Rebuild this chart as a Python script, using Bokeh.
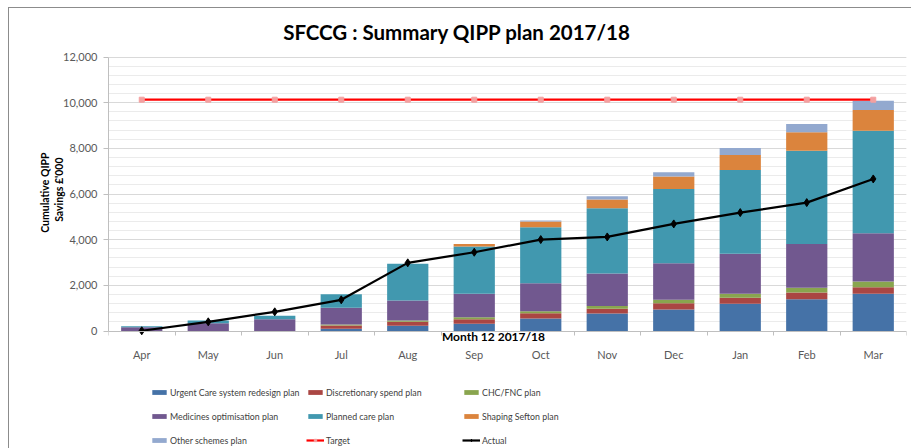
from bokeh.plotting import figure
from bokeh.layouts import column
from bokeh.models import (ColumnDataSource, Legend, LegendItem, FixedTicker, Label, Title,
                          SingleIntervalTicker, Range1d, NumeralTickFormatter)
from bokeh.embed import file_html
from bokeh.resources import INLINE

months = ["Apr", "May", "Jun", "Jul", "Aug", "Sep", "Oct", "Nov", "Dec", "Jan", "Feb", "Mar"]
urgent = [0, 0, 0, 96, 227, 315, 547, 766, 941, 1190, 1390, 1627]
discretionary = [0, 0, 0, 145, 175, 201, 232, 204, 277, 263, 294, 291]
chc_fnc = [0, 0, 0, 43, 58, 88, 88, 130, 147, 175, 205, 248]
medicines = [166, 341, 516, 731, 875, 1024, 1225, 1416, 1603, 1750, 1926, 2114]
planned = [44, 119, 149, 596, 1605, 2070, 2451, 2859, 3254, 3676, 4084, 4495]
shaping = [0, 0, 0, 0, 0, 117, 249, 380, 539, 657, 802, 905]
other = [0, 0, 0, 0, 0, 0, 44, 145, 189, 306, 366, 408]
target = [10130] * 12
actual = [10, 402, 840, 1365, 2985, 3450, 4004, 4120, 4690, 5186, 5623, 6660]
y_ticks_max = 12000

series_keys = ["urgent", "disc", "chc", "med", "planned", "shaping", "other"]
series_labels = ["Urgent Care system redesign plan", "Discretionary spend plan", "CHC/FNC plan",
                 "Medicines optimisation plan", "Planned care plan", "Shaping Sefton plan",
                 "Other schemes plan"]
series_colors = ["#4572A7", "#AA4643", "#89A54E", "#71588F", "#4198AF", "#DB843D", "#93A9CF"]

TARGET_COLOR = "#FF0000"
TARGET_MARK = "#F4A0A0"
ACTUAL_COLOR = "#000000"
FONT = "Lato"

# layout geometry (pixels inside the figure canvas)
W, H = 902, 440
AXIS_TOP_PX, AXIS_ZERO_PX = 48.5, 322.5
px_per_unit = (AXIS_ZERO_PX - AXIS_TOP_PX) / y_ticks_max
y_end = y_ticks_max + AXIS_TOP_PX / px_per_unit
y_start = -(H - AXIS_ZERO_PX) / px_per_unit

x = list(range(len(months)))
src = ColumnDataSource(dict(x=x, urgent=urgent, disc=discretionary, chc=chc_fnc, med=medicines,
                            planned=planned, shaping=shaping, other=other,
                            target=target, actual=actual))

p = figure(width=W, height=H, x_range=Range1d(-0.5, 11.5), y_range=Range1d(y_start, y_end),
           output_backend="svg", toolbar_location=None,
           min_border_left=99, min_border_right=5, min_border_top=0, min_border_bottom=0,
           background_fill_color="white", border_fill_color="white", outline_line_color=None)

bars = p.vbar_stack(series_keys, x="x", width=0.62, color=series_colors, source=src,
                    line_color=None)
t_line = p.line("x", "target", source=src, line_color=TARGET_COLOR, line_width=2.2)
t_pts = p.scatter("x", "target", source=src, marker="square", size=5, fill_color=TARGET_MARK,
                  line_color=TARGET_MARK)
a_line = p.line("x", "actual", source=src, line_color=ACTUAL_COLOR, line_width=2.2)
a_pts = p.scatter("x", "actual", source=src, marker="diamond", size=8, fill_color=ACTUAL_COLOR,
                  line_color=ACTUAL_COLOR)

# axes
p.xaxis.fixed_location = 0
p.xaxis.ticker = FixedTicker(ticks=x, minor_ticks=[i - 0.5 for i in range(len(months) + 1)])
p.xaxis.major_label_overrides = {i: m for i, m in enumerate(months)}
p.xaxis.major_tick_line_color = None
p.xaxis.minor_tick_out = 4
p.xaxis.minor_tick_in = 0
p.xaxis.minor_tick_line_color = "#bfbfbf"
p.xaxis.axis_line_color = "#bfbfbf"
p.xaxis.major_label_standoff = 11
p.xgrid.grid_line_color = None

p.yaxis.bounds = (0, y_ticks_max)
p.yaxis.ticker = SingleIntervalTicker(interval=2000, num_minor_ticks=5)
p.yaxis.formatter = NumeralTickFormatter(format="0,0")
p.yaxis.minor_tick_line_color = None
p.yaxis.major_tick_out = 5
p.yaxis.major_tick_in = 0
p.yaxis.major_tick_line_color = "#bfbfbf"
p.yaxis.axis_line_color = "#bfbfbf"
p.yaxis.major_label_standoff = 6
p.ygrid.bounds = (0, y_ticks_max)
p.ygrid.grid_line_color = "#d9d9d9"
p.ygrid.minor_grid_line_color = "#ebebeb"

for ax in (p.xaxis, p.yaxis):
    ax.major_label_text_font = FONT
    ax.major_label_text_font_size = "11px"
    ax.major_label_text_color = "#595959"

# y-axis title: two rotated lines in the left panel
for txt, off, so in (("Savings £'000", 149, -8), ("Cumulative QIPP", 144, 8)):
    p.add_layout(Title(text=txt, align="right", offset=off, standoff=so,
                       text_font=FONT, text_font_style="bold", text_font_size="10.5px",
                       text_color="#000000"), "left")

# texts (screen units, measured from the frame's lower-left corner)
p.add_layout(Label(x=348.5, y=H - 23, x_units="screen", y_units="screen",
                   text="SFCCG : Summary QIPP plan 2017/18", text_align="center",
                   text_baseline="middle", text_font=FONT, text_font_style="bold",
                   text_font_size="20.5px", text_color="#000000"))
p.add_layout(Label(x=385, y=H - 328, x_units="screen", y_units="screen",
                   text="Month 12 2017/18", text_align="center", text_baseline="middle",
                   text_font=FONT, text_font_style="bold", text_font_size="12px",
                   text_color="#000000"))

# legend: three columns of three rows
cols = [
    [(series_labels[0], [bars[0]]), (series_labels[3], [bars[3]]), (series_labels[6], [bars[6]])],
    [(series_labels[1], [bars[1]]), (series_labels[4], [bars[4]]), ("Target", [t_line, t_pts])],
    [(series_labels[2], [bars[2]]), (series_labels[5], [bars[5]]), ("Actual", [a_line, a_pts])],
]
col_x = [42, 198, 354]
for cx, col_items in zip(col_x, cols):
    lg = Legend(items=[LegendItem(label=l, renderers=r) for l, r in col_items],
                location=(cx, 1.5), orientation="vertical",
                padding=0, margin=0, spacing=11, label_height=13, glyph_height=6,
                glyph_width=18, label_standoff=2, border_line_color=None,
                background_fill_alpha=0, label_text_font=FONT,
                label_text_font_size="8.8px", label_text_color="#404040")
    p.add_layout(lg, "center")

layout = column(p, spacing=0,
                styles={"border-left": "1px solid #8c8c8c", "border-top": "1px solid #8c8c8c",
                        "margin-left": "8px", "margin-top": "7px"})

open("out.html", "w").write(file_html(layout, INLINE))
